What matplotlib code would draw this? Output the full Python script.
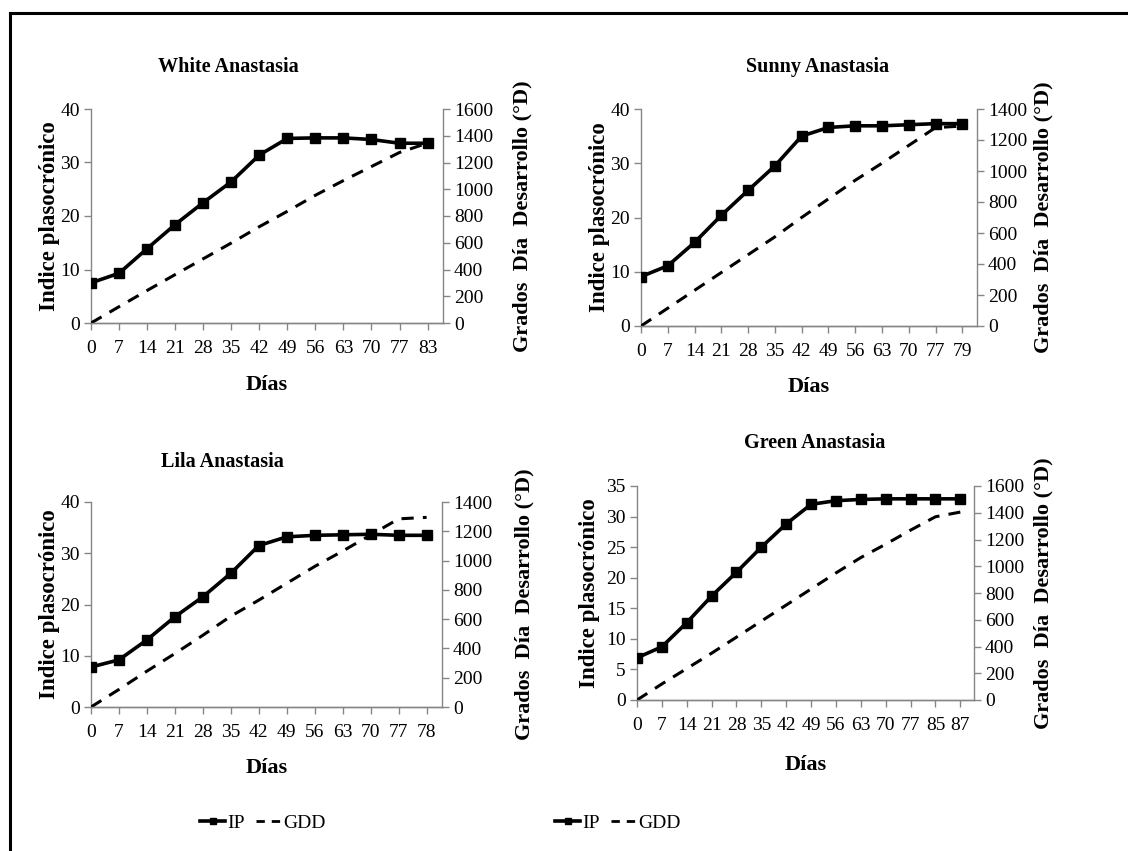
import matplotlib.pyplot as plt
import numpy as np
from matplotlib.lines import Line2D

plt.rcParams['font.family'] = ['Liberation Serif', 'DejaVu Serif']

# data
white_days = ['0', '7', '14', '21', '28', '35', '42', '49', '56', '63', '70', '77', '83']
white_ip = [7.5, 9.3, 13.9, 18.4, 22.5, 26.4, 31.4, 34.5, 34.6, 34.6, 34.3, 33.6, 33.6]
white_gdd = [0, 122, 243, 362, 480, 598, 720, 835, 955, 1065, 1170, 1275, 1345]

sunny_days = ['0', '7', '14', '21', '28', '35', '42', '49', '56', '63', '70', '77', '79']
sunny_ip = [9.1, 11.1, 15.4, 20.4, 25.0, 29.5, 35.0, 36.6, 36.9, 36.9, 37.1, 37.3, 37.3]
sunny_gdd = [0, 115, 230, 345, 460, 575, 700, 820, 940, 1050, 1165, 1280, 1290]

lila_days = ['0', '7', '14', '21', '28', '35', '42', '49', '56', '63', '70', '77', '78']
lila_ip = [7.8, 9.2, 13.1, 17.6, 21.5, 26.1, 31.5, 33.2, 33.5, 33.6, 33.7, 33.5, 33.5]
lila_gdd = [0, 120, 245, 365, 490, 620, 730, 845, 960, 1065, 1175, 1285, 1295]

green_days = ['0', '7', '14', '21', '28', '35', '42', '49', '56', '63', '70', '77', '85', '87']
green_ip = [6.9, 8.7, 12.65, 17.0, 20.9, 25.0, 28.8, 32.0, 32.6, 32.8, 32.9, 32.9, 32.9, 32.9]
green_gdd = [0, 120, 235, 350, 470, 590, 710, 830, 950, 1065, 1165, 1270, 1370, 1405]

W, H = 1128, 851
gray = '#868686'


def frac(left, top, right, bottom):
    return [left / W, 1 - bottom / H, (right - left) / W, (bottom - top) / H]


def panel(fig, box, days, ip, gdd, ymax, ystep, y2max, title, title_xy, xlab_y, ylab_x, y2lab_x):
    ax = fig.add_axes(frac(*box))
    x = np.arange(len(days))
    ax.plot(x, ip, color='black', lw=2.6, marker='s', ms=7, zorder=3)
    ax.set_xlim(0, len(days) - 0.45)
    ax.set_ylim(0, ymax)
    ax.set_yticks(np.arange(0, ymax + 1, ystep))
    ax.set_xticks(x)
    ax.set_xticklabels(days)
    ax2 = ax.twinx()
    ax2.plot(x, gdd, color='black', lw=2.2, ls=(0, (4, 3)))
    ax2.set_ylim(0, y2max)
    ax2.set_yticks(np.arange(0, y2max + 1, 200))
    for a in (ax, ax2):
        a.spines['top'].set_visible(False)
        for s in ('left', 'right', 'bottom'):
            a.spines[s].set_color(gray)
            a.spines[s].set_linewidth(1)
        a.tick_params(axis='y', colors=gray, labelcolor='black', labelsize=14, length=5, width=1, pad=3)
    ax.tick_params(axis='x', colors=gray, labelcolor='black', labelsize=14, length=5, width=1, pad=7)
    ax2.spines['left'].set_visible(False)
    ax.spines['right'].set_visible(False)
    fig.text(title_xy[0] / W, 1 - title_xy[1] / H, title, ha='center', va='center',
             fontsize=14.5, fontweight='bold')
    cx = (box[0] + box[2]) / 2
    fig.text(cx / W, 1 - xlab_y / H, 'Días', ha='center', va='center', fontsize=16, fontweight='bold')
    cy = (box[1] + box[3]) / 2
    fig.text(ylab_x / W, 1 - cy / H, 'Indice plasocrónico', rotation=90, ha='center', va='center',
             fontsize=16.5, fontweight='bold')
    fig.text(y2lab_x / W, 1 - cy / H, 'Grados  Día  Desarrollo (°D)', rotation=90, ha='center',
             va='center', fontsize=16, fontweight='bold')


fig = plt.figure(figsize=(W / 100, H / 100), dpi=100)

panel(fig, (91, 109, 443, 323), white_days, white_ip, white_gdd, 40, 10, 1600,
      'White Anastasia', (228, 67), 385, 50, 522)
panel(fig, (641, 109, 977, 326), sunny_days, sunny_ip, sunny_gdd, 40, 10, 1400,
      'Sunny Anastasia', (818, 67), 387, 600, 1043)
panel(fig, (91, 502, 442, 707), lila_days, lila_ip, lila_gdd, 40, 10, 1400,
      'Lila Anastasia', (222, 462), 768, 50, 524)
panel(fig, (637, 486, 974, 700), green_days, green_ip, green_gdd, 35, 5, 1600,
      'Green Anastasia', (815, 443), 765, 589, 1043)

handles = [Line2D([], [], color='black', lw=2.6, marker='s', ms=5),
           Line2D([], [], color='black', lw=2, ls=(0, (3, 2.5)))]
for lx in (263, 618):
    fig.legend(handles, ['IP', 'GDD'], loc='center', bbox_to_anchor=(lx / W, 1 - 823 / H),
               ncol=2, frameon=False, fontsize=14, handlelength=1.3, handletextpad=0.1,
               columnspacing=0.6)

# frame around the figure (left and top only, as in the cropped reference)
fig.add_artist(Line2D([10 / W, 10 / W], [0, 1 - 13 / H], color='black', lw=2.2))
fig.add_artist(Line2D([10 / W, 1], [1 - 13 / H, 1 - 13 / H], color='black', lw=2.2))

fig.savefig('out.png', dpi=100)
